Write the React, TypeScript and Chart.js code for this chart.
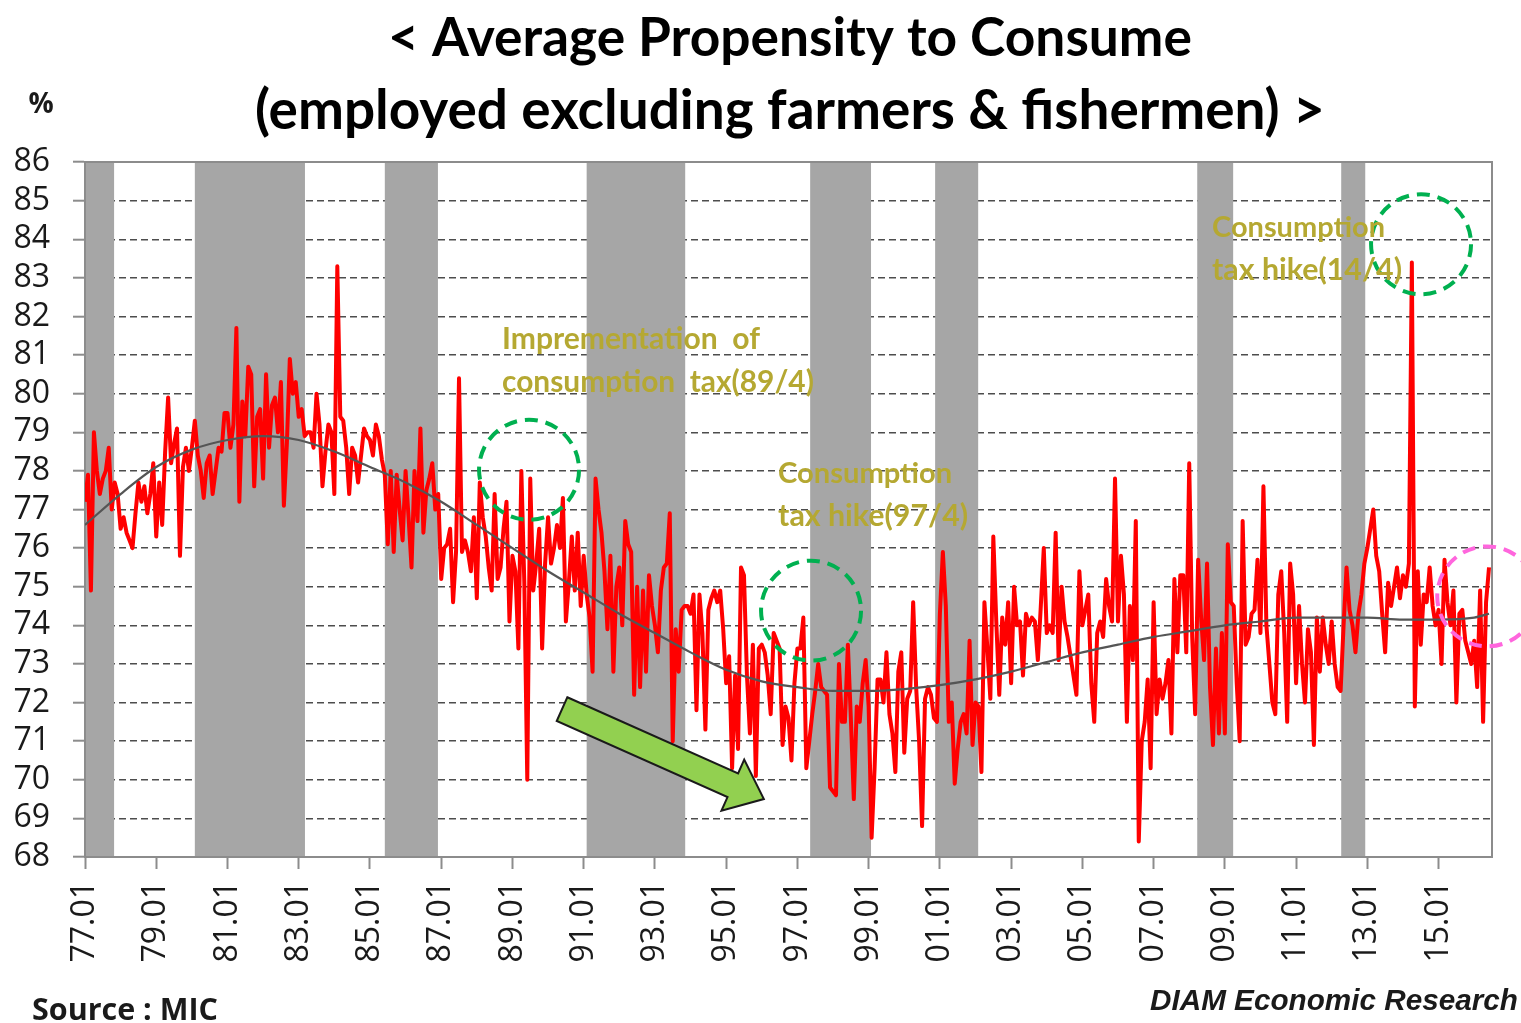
import React, { useEffect, useRef } from "react";
import { Chart, registerables } from "chart.js";

Chart.register(...registerables);

// Average propensity to consume, monthly, %, from 1977.01 (one array per year)
const apc1977 = [77.2, 77.9, 74.9, 79.0, 78.0, 77.4, 77.8, 78.0, 78.6, 77.0, 77.7, 77.4];
const apc1978 = [76.5, 76.8, 76.4, 76.2, 76.0, 76.9, 77.7, 77.2, 77.6, 76.9, 77.4, 78.2];
const apc1979 = [76.3, 77.7, 76.6, 78.5, 79.9, 78.2, 78.7, 79.1, 75.8, 78.1, 78.6, 78.0];
const apc1980 = [78.6, 79.3, 78.4, 78.0, 77.3, 78.2, 78.4, 77.4, 78.0, 78.6, 78.5, 79.5];
const apc1981 = [79.5, 78.6, 79.2, 81.7, 77.2, 79.8, 78.9, 80.7, 80.5, 77.6, 79.4, 79.6];
const apc1982 = [77.8, 80.5, 78.6, 79.7, 79.9, 79.0, 80.3, 77.1, 78.7, 80.9, 80.0, 80.3];
const apc1983 = [79.4, 79.6, 78.9, 79.0, 79.0, 78.6, 80.0, 79.2, 77.6, 78.5, 79.2, 79.0];
const apc1984 = [77.4, 83.3, 79.4, 79.3, 78.6, 77.4, 78.6, 78.4, 77.7, 78.4, 79.1, 78.9];
const apc1985 = [78.8, 78.4, 79.2, 78.9, 78.3, 77.9, 76.1, 78.0, 75.9, 77.9, 77.0, 76.2];
const apc1986 = [78.0, 76.8, 75.5, 78.0, 76.7, 79.1, 76.4, 77.5, 77.8, 78.2, 77.0, 77.4];
const apc1987 = [75.2, 76.0, 76.1, 76.5, 74.6, 75.9, 80.4, 75.9, 76.2, 75.9, 75.4, 76.8];
const apc1988 = [74.7, 77.7, 76.8, 76.3, 75.5, 74.9, 77.4, 75.2, 75.5, 76.5, 77.2, 74.1];
const apc1989 = [75.8, 75.4, 73.4, 78.0, 75.1, 70.0, 77.8, 74.9, 75.6, 76.5, 73.4, 75.6];
const apc1990 = [76.8, 75.6, 76.0, 76.6, 76.0, 77.3, 74.1, 75.1, 76.3, 74.9, 76.4, 74.5];
const apc1991 = [75.8, 74.8, 74.2, 72.8, 77.8, 77.0, 76.4, 75.4, 73.9, 75.8, 72.8, 75.0];
const apc1992 = [75.5, 74.0, 76.7, 76.1, 75.9, 72.2, 75.0, 72.4, 74.9, 72.8, 75.3, 74.5];
const apc1993 = [74.0, 73.3, 74.9, 75.5, 75.6, 76.9, 71.0, 73.9, 72.8, 74.4, 74.5, 74.5];
const apc1994 = [74.3, 74.8, 71.8, 74.8, 73.8, 71.3, 74.4, 74.7, 74.9, 74.6, 74.9, 73.9];
const apc1995 = [72.5, 73.2, 70.3, 72.7, 70.8, 75.5, 75.3, 72.7, 71.2, 73.5, 70.1, 73.4];
const apc1996 = [73.5, 73.3, 72.7, 71.7, 73.8, 73.6, 73.4, 70.9, 71.9, 71.6, 70.5, 72.5];
const apc1997 = [73.4, 73.4, 74.2, 70.3, 71.0, 71.7, 72.3, 73.0, 72.4, 72.3, 72.2, 69.8];
const apc1998 = [69.7, 69.6, 73.0, 71.5, 71.5, 73.5, 71.6, 69.5, 71.9, 71.5, 72.5, 73.1];
const apc1999 = [71.9, 68.5, 70.3, 72.6, 72.6, 72.0, 73.3, 71.7, 71.2, 70.2, 72.8, 73.3];
const apc2000 = [70.7, 72.1, 72.3, 74.6, 72.4, 71.0, 68.8, 72.1, 72.4, 72.2, 71.6, 71.5];
const apc2001 = [74.3, 75.9, 74.5, 71.5, 72.0, 69.9, 70.8, 71.5, 71.7, 71.2, 73.6, 70.9];
const apc2002 = [72.0, 71.9, 70.2, 74.6, 73.4, 72.1, 76.3, 74.1, 72.2, 74.2, 73.5, 74.6];
const apc2003 = [72.5, 75.0, 74.0, 74.1, 72.7, 74.3, 74.0, 74.2, 74.1, 73.1, 74.5, 76.0];
const apc2004 = [73.8, 74.0, 73.8, 76.4, 73.1, 75.0, 74.1, 73.7, 73.2, 72.7, 72.2, 75.4];
const apc2005 = [74.0, 74.4, 74.8, 72.5, 71.5, 73.8, 74.1, 73.7, 75.2, 74.5, 74.1, 77.8];
const apc2006 = [74.1, 75.8, 74.8, 71.5, 74.5, 73.1, 76.7, 68.4, 71.0, 71.5, 72.6, 70.3];
const apc2007 = [74.6, 71.7, 72.6, 72.1, 72.5, 73.1, 71.2, 75.2, 73.3, 75.3, 75.3, 73.3];
const apc2008 = [78.2, 73.7, 71.7, 75.7, 74.2, 73.1, 75.6, 72.4, 70.9, 73.4, 71.2, 73.8];
const apc2009 = [71.2, 76.1, 74.6, 74.5, 72.5, 71.0, 76.7, 73.5, 73.7, 74.3, 74.4, 75.7];
const apc2010 = [73.8, 77.6, 74.0, 73.0, 72.0, 71.7, 74.8, 75.4, 73.8, 71.5, 75.6, 74.8];
const apc2011 = [72.5, 74.5, 73.0, 72.0, 73.9, 73.3, 70.9, 74.2, 72.8, 74.2, 73.5, 73.0];
const apc2012 = [74.1, 73.0, 72.4, 72.3, 74.0, 75.5, 74.4, 74.0, 73.3, 74.3, 74.8, 75.6];
const apc2013 = [76.0, 76.5, 77.0, 75.8, 75.4, 74.3, 73.3, 75.1, 74.5, 75.0, 75.5, 74.7];
const apc2014 = [75.3, 75.0, 75.6, 83.4, 71.9, 75.4, 73.5, 74.8, 74.6, 75.5, 74.5, 74.0];
const apc2015 = [74.4, 73.0, 75.7, 74.6, 74.0, 74.9, 72.0, 74.3, 74.4, 73.6, 73.3, 73.0];
const apc2016 = [73.6, 72.4, 74.9, 71.5, 74.6, 75.5];

const apcSeries = [
  ...apc1977, ...apc1978, ...apc1979, ...apc1980, ...apc1981, ...apc1982, ...apc1983,
  ...apc1984, ...apc1985, ...apc1986, ...apc1987, ...apc1988, ...apc1989, ...apc1990,
  ...apc1991, ...apc1992, ...apc1993, ...apc1994, ...apc1995, ...apc1996, ...apc1997,
  ...apc1998, ...apc1999, ...apc2000, ...apc2001, ...apc2002, ...apc2003, ...apc2004,
  ...apc2005, ...apc2006, ...apc2007, ...apc2008, ...apc2009, ...apc2010, ...apc2011,
  ...apc2012, ...apc2013, ...apc2014, ...apc2015, ...apc2016,
];

// Trend curve (month index from 1977.01, value)
const trendMonth = [0, 12, 24, 36, 48, 60, 72, 84, 96, 108, 120, 132, 144, 156, 168, 180, 192, 204, 216, 228, 240, 252, 264, 276, 288, 300, 312, 324, 336, 348, 360, 372, 384, 396, 408, 420, 432, 444, 456, 468, 473];
const trendValue = [76.6, 77.4, 78.1, 78.55, 78.8, 78.9, 78.8, 78.5, 78.1, 77.7, 77.2, 76.6, 76.0, 75.4, 74.85, 74.3, 73.8, 73.3, 72.85, 72.55, 72.4, 72.3, 72.3, 72.35, 72.45, 72.6, 72.8, 73.05, 73.3, 73.5, 73.7, 73.85, 74.0, 74.1, 74.2, 74.2, 74.2, 74.15, 74.15, 74.2, 74.3];

// Recession periods (month index from 1977.01)
const recessionStart = [0, 37, 101, 169, 244.3, 286.4, 374.7, 423.2];
const recessionEnd = [9.8, 74.1, 118.9, 202.2, 264.8, 300.9, 386.8, 431.3];

// Axes
const xTickLabels = ["77.01", "79.01", "81.01", "83.01", "85.01", "87.01", "89.01", "91.01", "93.01", "95.01", "97.01", "99.01", "01.01", "03.01", "05.01", "07.01", "09.01", "11.01", "13.01", "15.01"];
const monthsPerTick = 24;
const xMax = 474;
const yTickValues = [68, 69, 70, 71, 72, 73, 74, 75, 76, 77, 78, 79, 80, 81, 82, 83, 84, 85, 86];

// Annotations (anchored in data coordinates: month index, value)
const noteText = ["Imprementation  of", "consumption  tax(89/4)", "Consumption", "tax hike(97/4)", "Consumption", "tax hike(14/4)"];
const noteMonth = [140.5, 140.5, 233.5, 233.5, 379.7, 379.7];
const noteValue = [81.16, 80.04, 77.69, 76.57, 84.06, 82.94];
const noteWidth = [258, 312, 174, 190, 173, 190];

const circleMonth = [149.6, 244.6, 450.1, 472.4];
const circleValue = [78.03, 74.38, 83.87, 74.75];
const circleColor = ["#00b050", "#00b050", "#00b050", "#ff66dd"];

const arrowFrom = { month: 160.7, value: 71.83 };
const arrowTo = { month: 228.7, value: 69.5 };

const titleLines = ["< Average Propensity to Consume", "(employed excluding farmers & fishermen) >"];

function fitSize(ctx: CanvasRenderingContext2D, text: string, style: string, family: string, width: number) {
  ctx.font = `${style} 100px ${family}`;
  const w = ctx.measureText(text).width;
  return (100 * width) / w;
}

const overlayPlugin = {
  id: "overlay",
  beforeDatasetsDraw(chart: any) {
    const { ctx, chartArea: a, scales } = chart;
    const x = scales.x;
    ctx.save();
    ctx.beginPath();
    ctx.rect(a.left, a.top, a.right - a.left, a.bottom - a.top);
    ctx.clip();
    ctx.fillStyle = "#a6a6a6";
    recessionStart.forEach((s, i) => {
      const x0 = x.getPixelForValue(s);
      const x1 = x.getPixelForValue(recessionEnd[i]);
      ctx.fillRect(x0, a.top, x1 - x0, a.bottom - a.top);
    });
    ctx.restore();
    ctx.save();
    ctx.strokeStyle = "#8c8c8c";
    ctx.lineWidth = 2;
    ctx.strokeRect(a.left, a.top, a.right - a.left, a.bottom - a.top);
    ctx.restore();
  },
  afterDatasetsDraw(chart: any) {
    const { ctx, scales } = chart;
    const x = scales.x;
    const y = scales.y;

    // dashed circles
    circleMonth.forEach((m, i) => {
      ctx.save();
      ctx.strokeStyle = circleColor[i];
      ctx.lineWidth = 4;
      ctx.setLineDash([13, 8]);
      ctx.beginPath();
      ctx.arc(x.getPixelForValue(m), y.getPixelForValue(circleValue[i]), 50, 0, Math.PI * 2);
      ctx.stroke();
      ctx.restore();
    });

    // arrow
    const x0 = x.getPixelForValue(arrowFrom.month);
    const y0 = y.getPixelForValue(arrowFrom.value);
    const x1 = x.getPixelForValue(arrowTo.month);
    const y1 = y.getPixelForValue(arrowTo.value);
    const ang = Math.atan2(y1 - y0, x1 - x0);
    const len = Math.hypot(x1 - x0, y1 - y0);
    const headLen = 34;
    const headHalf = 28;
    const shaftHalf = 13;
    ctx.save();
    ctx.translate(x0, y0);
    ctx.rotate(ang);
    ctx.beginPath();
    ctx.moveTo(0, -shaftHalf);
    ctx.lineTo(len - headLen, -shaftHalf);
    ctx.lineTo(len - headLen, -headHalf);
    ctx.lineTo(len, 0);
    ctx.lineTo(len - headLen, headHalf);
    ctx.lineTo(len - headLen, shaftHalf);
    ctx.lineTo(0, shaftHalf);
    ctx.closePath();
    ctx.fillStyle = "#92d050";
    ctx.fill();
    ctx.strokeStyle = "#1a1a1a";
    ctx.lineWidth = 2;
    ctx.stroke();
    ctx.restore();

    // annotation texts
    ctx.save();
    ctx.fillStyle = "#b5a832";
    ctx.textAlign = "left";
    ctx.textBaseline = "alphabetic";
    noteText.forEach((t, i) => {
      const size = fitSize(ctx, t, "bold", "Lato", noteWidth[i]);
      ctx.font = `bold ${size.toFixed(2)}px Lato`;
      ctx.fillText(t, x.getPixelForValue(noteMonth[i]), y.getPixelForValue(noteValue[i]));
    });
    ctx.restore();
  },
  afterDraw(chart: any) {
    const { ctx } = chart;
    ctx.save();
    ctx.fillStyle = "#000000";
    ctx.textAlign = "center";
    ctx.textBaseline = "alphabetic";
    const s1 = fitSize(ctx, titleLines[0], "bold", "Lato", 804);
    ctx.font = `bold ${s1.toFixed(2)}px Lato`;
    ctx.fillText(titleLines[0], 790, 56);
    const s2 = fitSize(ctx, titleLines[1], "bold", "Lato", 1070);
    ctx.font = `bold ${s2.toFixed(2)}px Lato`;
    ctx.fillText(titleLines[1], 790, 129);

    ctx.font = "bold 28px 'Open Sans'";
    ctx.textBaseline = "middle";
    ctx.fillStyle = "#1a1a1a";
    ctx.fillText("%", 41, 105);

    ctx.textAlign = "left";
    ctx.textBaseline = "alphabetic";
    const s3 = fitSize(ctx, "Source : MIC", "bold", "'Open Sans'", 186);
    ctx.font = `bold ${s3.toFixed(2)}px 'Open Sans'`;
    ctx.fillText("Source : MIC", 32, 1020);

    const s4 = fitSize(ctx, "DIAM Economic Research", "italic bold", "'Liberation Sans'", 368);
    ctx.font = `italic bold ${s4.toFixed(2)}px 'Liberation Sans'`;
    ctx.fillText("DIAM Economic Research", 1150, 1010);
    ctx.restore();
  },
};

export default function App() {
  const canvasRef = useRef<HTMLCanvasElement | null>(null);

  useEffect(() => {
    const canvas = canvasRef.current;
    if (!canvas) return;
    const tickFont = { family: "'Open Sans'", size: 32 };
    const chart = new Chart(canvas, {
      type: "line",
      data: {
        datasets: [
          {
            label: "Average propensity to consume",
            data: apcSeries.map((v, i) => ({ x: i, y: v })),
            borderColor: "#ff0000",
            borderWidth: 4,
            borderJoinStyle: "round",
            pointRadius: 0,
            tension: 0,
            order: 1,
          },
          {
            label: "Trend",
            data: trendMonth.map((m, i) => ({ x: m, y: trendValue[i] })),
            borderColor: "#555555",
            borderWidth: 2.2,
            pointRadius: 0,
            cubicInterpolationMode: "monotone",
            order: 0,
          },
        ],
      },
      options: {
        animation: false,
        responsive: false,
        maintainAspectRatio: false,
        devicePixelRatio: 1,
        layout: { padding: { top: 162, right: 29, left: 0, bottom: 0 } },
        plugins: {
          legend: { display: false },
          tooltip: { enabled: false },
          title: { display: false },
        },
        scales: {
          x: {
            type: "linear",
            min: 0,
            max: xMax,
            afterBuildTicks: (s: any) => {
              s.ticks = xTickLabels.map((_, i) => ({ value: i * monthsPerTick }));
            },
            afterFit: (s: any) => {
              s.height = 166;
            },
            ticks: {
              autoSkip: false,
              maxRotation: 90,
              minRotation: 90,
              padding: 12,
              color: "#1a1a1a",
              font: tickFont,
              callback: (_v: any, i: number) => xTickLabels[i],
            },
            grid: {
              drawOnChartArea: false,
              drawTicks: true,
              tickLength: 12,
              tickColor: "#8c8c8c",
              tickWidth: 2,
              tickBorderDash: [],
            },
            border: { display: true, color: "#8c8c8c", width: 2 },
          },
          y: {
            type: "linear",
            min: 68,
            max: 86,
            afterBuildTicks: (s: any) => {
              s.ticks = yTickValues.map((v) => ({ value: v }));
            },
            afterFit: (s: any) => {
              s.width = 85;
            },
            ticks: {
              autoSkip: false,
              padding: 23,
              color: "#1a1a1a",
              font: tickFont,
              callback: (v: any) => String(v),
            },
            grid: {
              color: "#4d4d4d",
              lineWidth: 1.4,
              drawTicks: true,
              tickLength: 12,
              tickColor: "#8c8c8c",
              tickWidth: 2,
              tickBorderDash: [],
            },
            border: { display: true, color: "#8c8c8c", width: 2, dash: [7, 4] },
          },
        },
      },
      plugins: [overlayPlugin],
    } as any);
    return () => chart.destroy();
  }, []);

  return (
    <div style={{ position: "absolute", left: 0, top: 0, width: 1521, height: 1023, background: "#ffffff" }}>
      <canvas ref={canvasRef} width={1521} height={1023} style={{ display: "block", width: 1521, height: 1023 }} />
    </div>
  );
}
